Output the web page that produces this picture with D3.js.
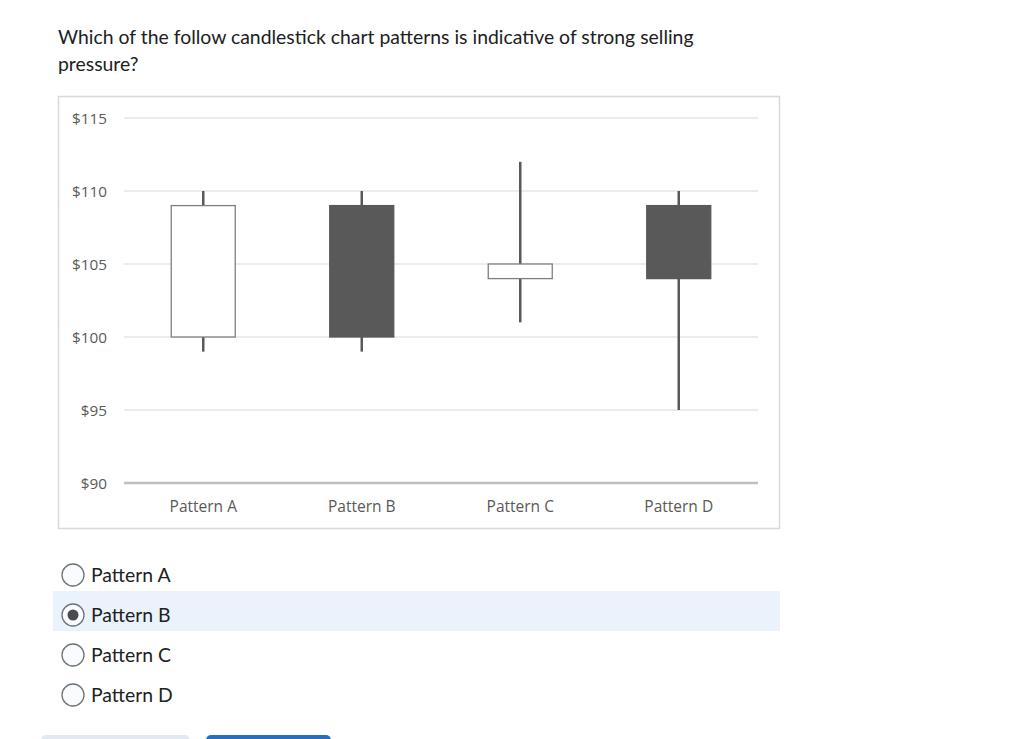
<!DOCTYPE html>
<html><head><meta charset="utf-8">
<script src="https://cdn.jsdelivr.net/npm/d3@7"></script>
<style>
body{margin:0;background:#fff;font-family:Lato,sans-serif;}
</style></head>
<body><svg id="c" width="1024" height="739"></svg>
<script>
const categories = ["Pattern A","Pattern B","Pattern C","Pattern D"];
const openVals  = [100, 109, 104, 109];
const closeVals = [109, 100, 105, 104];
const highVals  = [110, 110, 112, 110];
const lowVals   = [99, 99, 101, 95];
const yTicks = [90, 95, 100, 105, 110, 115];
const options = ["Pattern A","Pattern B","Pattern C","Pattern D"];
const selected = "Pattern B";

const svg = d3.select("#c");
const qFont = 19.4;
const q = svg.append("text").attr("x",58).attr("font-family","Lato, sans-serif").attr("font-size",qFont).attr("fill","#202122");
q.append("tspan").attr("x",58).attr("y",44).text("Which of the follow candlestick chart patterns is indicative of strong selling");
q.append("tspan").attr("x",58).attr("y",71).text("pressure?");

svg.append("rect").attr("x",58.5).attr("y",96.5).attr("width",721).attr("height",432)
  .attr("fill","#fff").attr("stroke","#d9d9d9").attr("stroke-width",1.5);

const x = d3.scaleBand().domain(categories).range([124,758]);
const y = d3.scaleLinear().domain([90,115]).range([483,118]);

svg.append("g").selectAll("line").data(yTicks.filter(t=>t!==90)).join("line")
  .attr("x1",124).attr("x2",758).attr("y1",d=>y(d)).attr("y2",d=>y(d))
  .attr("stroke","#d9d9d9").attr("stroke-width",1.2);

const chartFont = "'Open Sans', sans-serif";
const yAxis = d3.axisLeft(y).tickValues(yTicks).tickFormat(d=>"$"+d).tickSize(0).tickPadding(0);
const gy = svg.append("g").attr("transform","translate(107,0)").call(yAxis);
gy.select(".domain").remove();
gy.selectAll("text").attr("font-family",chartFont).attr("font-size",15.3).attr("fill","#595959").attr("dy","0.35em");

svg.append("line").attr("x1",124).attr("x2",758).attr("y1",y(90)).attr("y2",y(90))
  .attr("stroke","#bfbfbf").attr("stroke-width",2.5);

const xAxis = d3.axisBottom(x).tickSize(0).tickPadding(0);
const gx = svg.append("g").attr("transform","translate(0,512)").call(xAxis);
gx.select(".domain").remove();
gx.selectAll("text").attr("font-family",chartFont).attr("font-size",15.5).attr("fill","#595959").attr("dy","0");

const data = categories.map((c,i)=>({c,o:openVals[i],cl:closeVals[i],h:highVals[i],l:lowVals[i]}));
const bw = 64;
const g = svg.append("g");
g.selectAll("line.w").data(data).join("line").attr("class","w")
  .attr("x1",d=>x(d.c)+x.bandwidth()/2).attr("x2",d=>x(d.c)+x.bandwidth()/2)
  .attr("y1",d=>y(d.h)).attr("y2",d=>y(d.l))
  .attr("stroke","#595959").attr("stroke-width",2.5);
g.selectAll("rect.b").data(data).join("rect").attr("class","b")
  .attr("x",d=>x(d.c)+x.bandwidth()/2-bw/2).attr("width",bw)
  .attr("y",d=>y(Math.max(d.o,d.cl))).attr("height",d=>y(Math.min(d.o,d.cl))-y(Math.max(d.o,d.cl)))
  .attr("fill",d=>d.cl>d.o?"#fff":"#595959")
  .attr("stroke",d=>d.cl>d.o?"#7f7f7f":"#595959").attr("stroke-width",1.3);

const oy = d3.scalePoint().domain(options).range([575,695]);
svg.append("rect").attr("x",53).attr("y",oy(selected)-24).attr("width",727).attr("height",40).attr("fill","#eaf2fb");
const og = svg.append("g").selectAll("g").data(options).join("g").attr("transform",d=>`translate(0,${oy(d)})`);
og.append("circle").attr("cx",73).attr("cy",0).attr("r",11).attr("fill","#f9fbff").attr("stroke","#6e7477").attr("stroke-width",1.3);
og.filter(d=>d===selected).append("circle").attr("cx",73).attr("cy",0).attr("r",5.5).attr("fill","#494c4e");
og.append("text").attr("x",91).attr("y",0).attr("dy","0.35em").attr("font-family","Lato, sans-serif")
  .attr("font-size",qFont).attr("fill","#202122").text(d=>d);

svg.append("rect").attr("x",41).attr("y",735).attr("width",149).attr("height",30).attr("rx",5).attr("fill","#e3e9f1");
svg.append("rect").attr("x",206).attr("y",735).attr("width",125).attr("height",30).attr("rx",5).attr("fill","#2a6ebb");
</script></body></html>
